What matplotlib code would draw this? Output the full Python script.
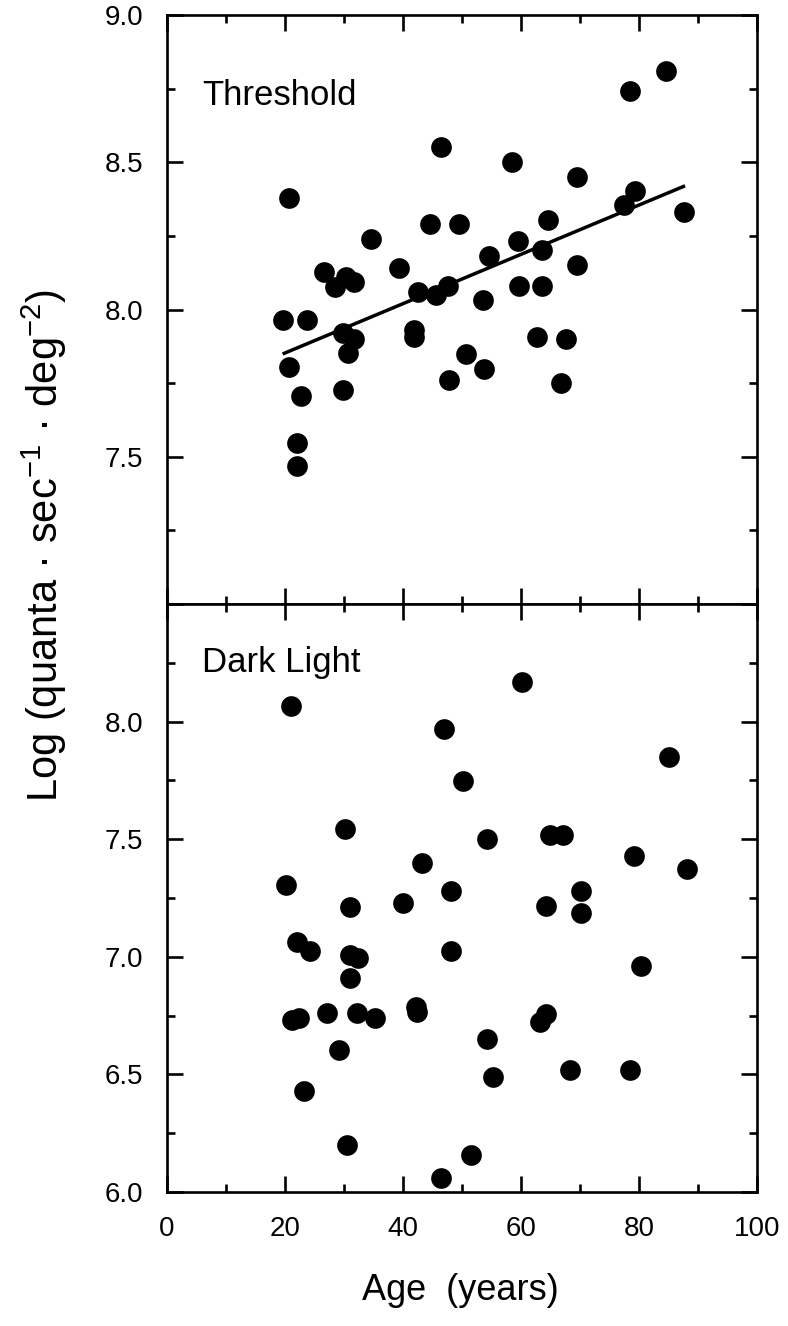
import matplotlib
matplotlib.use("Agg")
import matplotlib.pyplot as plt
from matplotlib.ticker import MultipleLocator, FixedLocator

plt.rcParams['font.family'] = ['Liberation Sans', 'DejaVu Sans']
plt.rcParams['mathtext.fontset'] = 'custom'
plt.rcParams['mathtext.rm'] = 'Liberation Sans'
plt.rcParams['mathtext.it'] = 'Liberation Sans:italic'
plt.rcParams['mathtext.bf'] = 'Liberation Sans:bold'

# ---- Threshold panel data (age in years, log quanta) ----
thr_age = [19.6, 20.6, 20.7, 22.0, 22.0, 22.7, 23.7, 26.6, 28.5, 29.8,
           29.9, 30.4, 30.6, 31.7, 31.7, 34.5, 39.4, 41.8, 41.8, 42.6,
           44.6, 45.6, 46.4, 47.7, 47.8, 49.5, 50.7, 53.6, 53.7, 54.6,
           58.4, 59.5, 59.7, 62.7, 63.6, 63.6, 64.5, 66.8, 67.6, 69.5,
           69.5, 77.5, 78.5, 79.4, 84.5, 87.6]
thr_val = [7.965, 8.378, 7.806, 7.546, 7.467, 7.706, 7.965, 8.128, 8.077, 7.727,
           7.919, 8.111, 7.853, 8.094, 7.899, 8.240, 8.140, 7.930, 7.905, 8.060,
           8.290, 8.049, 8.551, 8.081, 7.761, 8.290, 7.849, 8.032, 7.797, 8.180,
           8.500, 8.234, 8.081, 7.908, 8.202, 8.081, 8.304, 7.749, 7.900, 8.451,
           8.151, 8.355, 8.743, 8.403, 8.811, 8.332]
fit_age = [19.6, 87.8]
fit_val = [7.849, 8.420]

# ---- Dark light panel data ----
dl_age = [20.1, 21.0, 21.2, 22.1, 22.4, 23.3, 24.2, 27.2, 29.2, 30.2,
          30.5, 31.0, 31.1, 31.1, 32.2, 32.4, 35.3, 40.0, 42.2, 42.3,
          43.2, 46.4, 47.0, 48.2, 48.2, 50.1, 51.5, 54.2, 54.3, 55.3,
          60.1, 63.3, 64.2, 64.2, 65.0, 67.1, 68.3, 70.2, 70.2, 78.4,
          79.2, 80.3, 85.1, 88.2]
dl_val = [7.304, 8.066, 6.730, 7.063, 6.741, 6.429, 7.023, 6.761, 6.602, 7.545,
          6.198, 7.006, 7.210, 6.911, 6.761, 6.997, 6.741, 7.230, 6.785, 6.765,
          7.397, 6.060, 7.968, 7.279, 7.025, 7.748, 6.158, 7.500, 6.652, 6.489,
          8.169, 6.723, 6.755, 7.216, 7.517, 7.517, 6.520, 7.279, 7.187, 6.520,
          7.429, 6.960, 7.850, 7.372]

x_ticks = [0, 20, 40, 60, 80, 100]
thr_yticks = [7.0, 7.5, 8.0, 8.5, 9.0]
thr_ylabels = ['', '7.5', '8.0', '8.5', '9.0']
dl_yticks = [6.0, 6.5, 7.0, 7.5, 8.0, 8.5]
dl_ylabels = ['6.0', '6.5', '7.0', '7.5', '8.0', '']

W, H = 788, 1326
fig = plt.figure(figsize=(W / 100, H / 100), dpi=100)
left = 167 / W
width = (757 - 167) / W
ax1 = fig.add_axes([left, 1 - 604 / H, width, (604 - 15) / H])
ax2 = fig.add_axes([left, 1 - 1192 / H, width, (1192 - 604) / H])

ms = 222
lw_sp = 1.9
for ax in (ax1, ax2):
    for sp in ax.spines.values():
        sp.set_linewidth(lw_sp)
    ax.set_xlim(0, 100)
    ax.xaxis.set_major_locator(FixedLocator(x_ticks))
    ax.xaxis.set_minor_locator(MultipleLocator(10))
    ax.yaxis.set_minor_locator(MultipleLocator(0.25))
    ax.tick_params(which='both', direction='in', top=True, right=True,
                   width=lw_sp, labelsize=20, pad=17, colors='black')
    ax.tick_params(which='major', length=11.5)
    ax.tick_params(which='minor', length=5.8)

# Threshold panel
ax1.set_ylim(7.0, 9.0)
ax1.set_yticks(thr_yticks)
ax1.set_yticklabels(thr_ylabels)
ax1.tick_params(labelbottom=False)
ax1.plot(fit_age, fit_val, color='black', lw=2.5, solid_capstyle='butt', zorder=2)
ax1.scatter(thr_age, thr_val, s=ms, color='black', linewidths=0, zorder=3)
ax1.text(6.0, 8.694, 'Threshold', fontsize=25, va='baseline', ha='left')

# Dark light panel
ax2.set_ylim(6.0, 8.5)
ax2.set_yticks(dl_yticks)
ax2.set_yticklabels(dl_ylabels)
ax2.set_xticklabels([str(t) for t in x_ticks])
ax2.scatter(dl_age, dl_val, s=ms, color='black', linewidths=0, zorder=3)
ax2.text(6.0, 8.212, 'Dark Light', fontsize=25, va='baseline', ha='left')

fig.text(460 / W, 1 - 1300 / H, 'Age  (years)', fontsize=26, ha='center', va='baseline')
fig.text(44 / W, 1 - 545 / H, 'Log (quanta · sec$^{-1}$ · deg$^{-2}$)', fontsize=30,
         rotation=90, ha='center', va='center')

fig.savefig('out.png', dpi=100, facecolor='white')
